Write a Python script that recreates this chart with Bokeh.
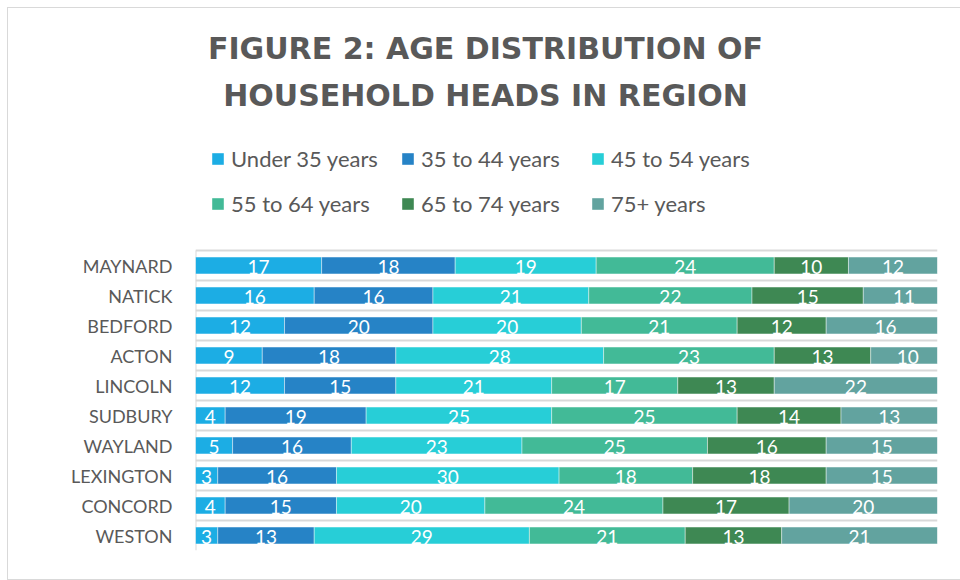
from bokeh.plotting import figure
from bokeh.models import (Range1d, FixedTicker, Legend, LegendItem,
                          ColumnDataSource, LabelSet, Label)
from bokeh.core.properties import value
from bokeh.embed import file_html
from bokeh.resources import INLINE

towns = ["MAYNARD", "NATICK", "BEDFORD", "ACTON", "LINCOLN",
         "SUDBURY", "WAYLAND", "LEXINGTON", "CONCORD", "WESTON"]
series_names = ["Under 35 years", "35 to 44 years", "45 to 54 years",
                "55 to 64 years", "65 to 74 years", "75+ years"]
under_35 = [17, 16, 12, 9, 12, 4, 5, 3, 4, 3]
age_35_44 = [18, 16, 20, 18, 15, 19, 16, 16, 15, 13]
age_45_54 = [19, 21, 20, 28, 21, 25, 23, 30, 20, 29]
age_55_64 = [24, 22, 21, 23, 17, 25, 25, 18, 24, 21]
age_65_74 = [10, 15, 12, 13, 13, 14, 16, 18, 17, 13]
age_75_plus = [12, 11, 16, 10, 22, 13, 15, 15, 20, 21]
colors = ["#1CADE4", "#2683C6", "#27CED7", "#42BA97", "#3E8853", "#62A39F"]
title_lines = ["FIGURE 2: AGE DISTRIBUTION OF", "HOUSEHOLD HEADS IN REGION"]

series = [under_35, age_35_44, age_45_54, age_55_64, age_65_74, age_75_plus]
n = len(towns)
ycenters = [i + 0.5 for i in range(n)]

# layout (pixels, figure coordinates; the figure sits 8px from the page corner)
W, H = 952, 571
FRAME_LEFT, FRAME_RIGHT, FRAME_BOTTOM = 187, 929, 542
BAND_PX = 30.0
y_top = n - FRAME_BOTTOM / BAND_PX      # data value at the top edge of the frame
px_per_x = (FRAME_RIGHT - FRAME_LEFT) / 100.0


def y_at(py):
    return y_top + py / BAND_PX


def x_at(px):
    return (px - FRAME_LEFT) / px_per_x


p = figure(width=W, height=H, output_backend="svg", toolbar_location=None,
           x_range=Range1d(0, 100), y_range=Range1d(n, y_top),
           min_border_left=FRAME_LEFT, min_border_right=W - FRAME_RIGHT,
           min_border_top=0, min_border_bottom=H - FRAME_BOTTOM, title=None)
p.outline_line_color = None
p.background_fill_color = "white"
p.border_fill_color = "white"
p.styles = {"margin-left": "8px", "margin-top": "8px",
            "outline": "1px solid #d9d9d9"}

p.xaxis.visible = False
p.xgrid.visible = False
p.ygrid.ticker = FixedTicker(ticks=list(range(n + 1)))
p.ygrid.grid_line_color = "#d9d9d9"
p.ygrid.grid_line_width = 2

yax = p.yaxis[0]
yax.ticker = FixedTicker(ticks=ycenters)
yax.major_label_overrides = {c: t for c, t in zip(ycenters, towns)}
yax.axis_line_color = None
yax.major_tick_line_color = None
yax.minor_tick_line_color = None
yax.major_label_standoff = 17
yax.major_label_text_font = "Lato"
yax.major_label_text_font_size = "18px"
yax.major_label_text_color = "#595959"

# category axis baseline, spanning only the bars' area
p.segment(x0=[0], y0=[0], x1=[0], y1=[n], line_color="#d9d9d9", line_width=2)

items = []
left = [0] * n
for name, vals, col in zip(series_names, series, colors):
    right = [l + v for l, v in zip(left, vals)]
    mid = [(l + r) / 2 for l, r in zip(left, right)]
    src = ColumnDataSource(dict(y=ycenters, left=left, right=right, mid=mid,
                                lab=[str(v) for v in vals]))
    r = p.hbar(y="y", left="left", right="right", height=0.56, source=src,
               fill_color=col, line_color="white", line_width=0.6, line_alpha=0.7)
    p.add_layout(LabelSet(x="mid", y="y", text="lab", source=src,
                          text_align="center", text_baseline="middle",
                          y_offset=-1, text_color="white",
                          text_font=value("Lato"), text_font_size="19px"))
    items.append(LegendItem(label=name, renderers=[r]))
    left = right

LEG_LEFT, LEG_BOTTOM = 202, 213
legend = Legend(items=items, orientation="horizontal", nrows=2,
                location=(LEG_LEFT - FRAME_LEFT, FRAME_BOTTOM - LEG_BOTTOM),
                label_text_font="Lato",
                label_text_font_size="22px", label_text_color="#595959",
                glyph_width=15, glyph_height=15, label_standoff=6,
                label_width=160, spacing=9, label_height=36, padding=0, margin=0,
                border_line_color=None, background_fill_alpha=0)
p.add_layout(legend, "center")

for txt, py in zip(title_lines, [40, 87]):
    p.add_layout(Label(x=x_at(477), y=y_at(py), text=txt,
                       text_align="center", text_baseline="middle",
                       text_font="DejaVu Sans", text_font_style="bold",
                       text_font_size="30px", text_color="#595959"))

open("out.html", "w").write(file_html(p, INLINE))
